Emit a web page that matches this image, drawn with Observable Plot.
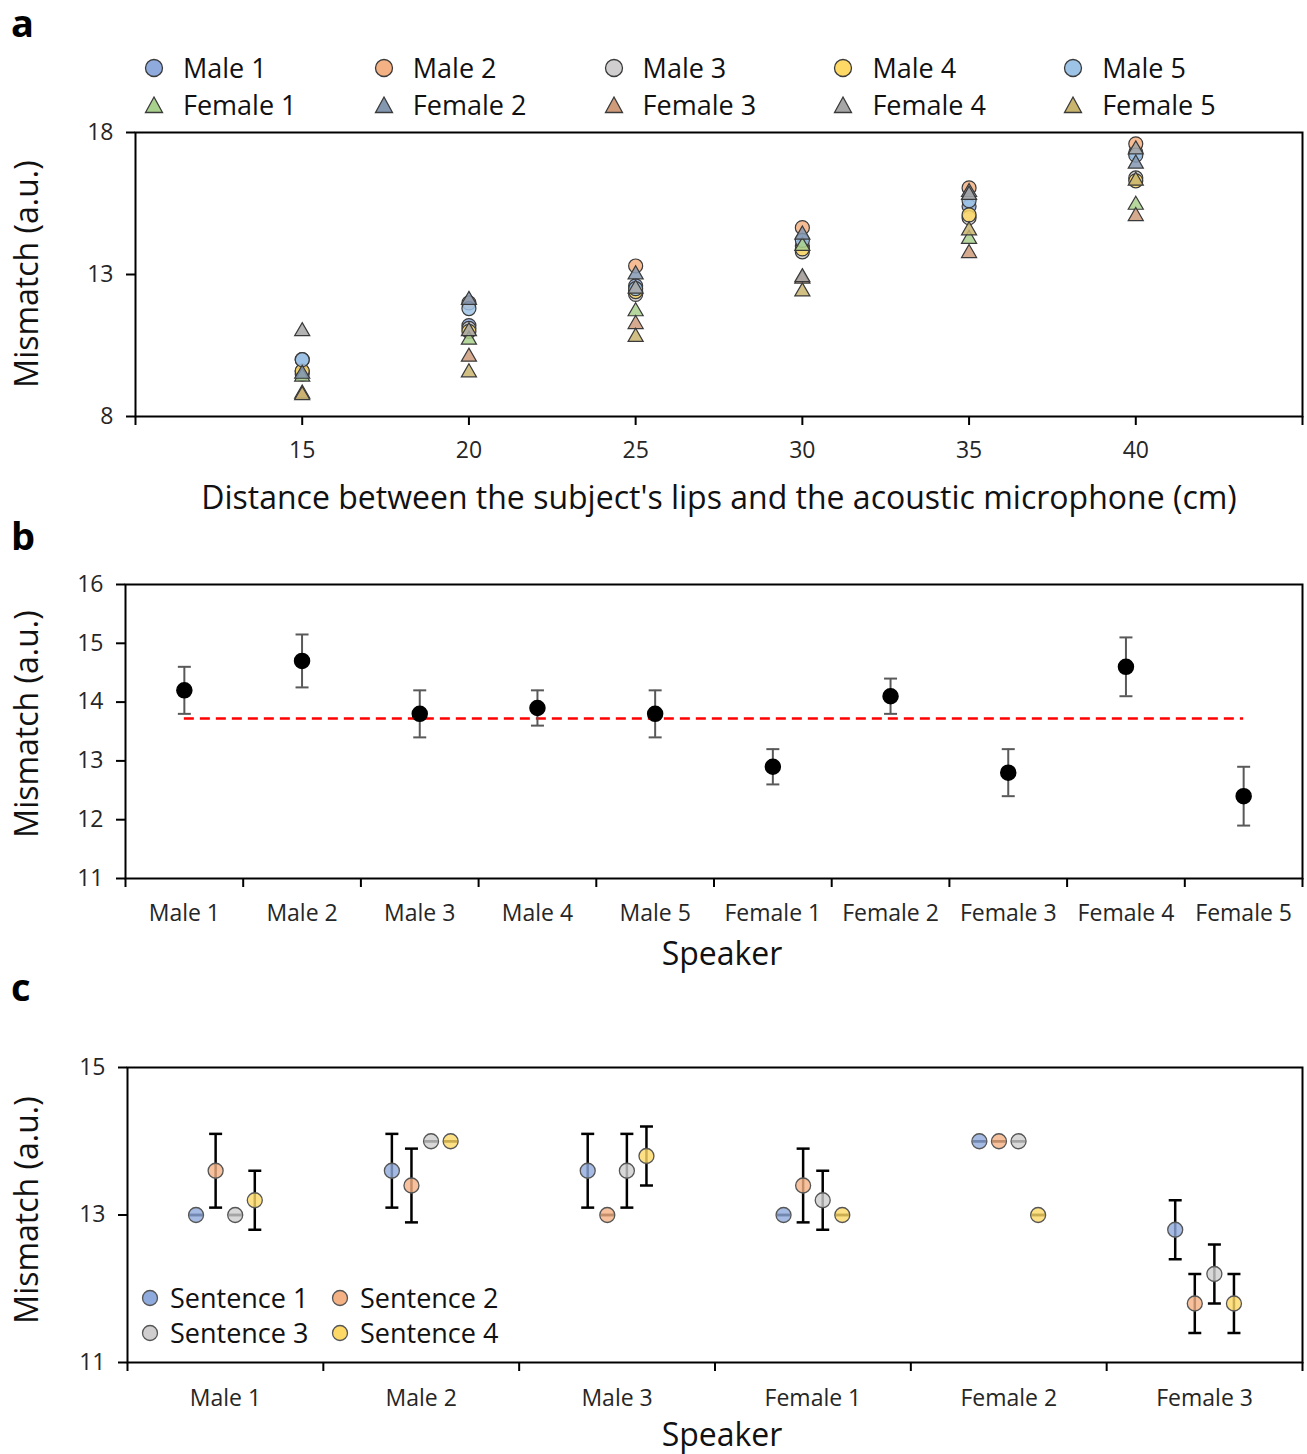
<!DOCTYPE html>
<html><head><meta charset="utf-8">
<script src="https://cdn.jsdelivr.net/npm/d3@7"></script>
<script src="https://cdn.jsdelivr.net/npm/@observablehq/plot@0.6"></script>
<style>
body{margin:0;background:#fff;font-family:"Open Sans",sans-serif;color:#1a1a1a;}
#root{position:relative;width:1307px;height:1454px;overflow:hidden;background:#fff;}
.plab{position:absolute;font-weight:bold;font-size:38px;line-height:1.15;font-family:"Open Sans",sans-serif;color:#000;}
.title{position:absolute;white-space:nowrap;font-size:32px;line-height:1.2;transform:translate(-50%,-50%);color:#111;}
.ytitle{position:absolute;white-space:nowrap;font-size:32px;line-height:1.2;transform:translate(-50%,-50%) rotate(-90deg);color:#111;}
.leg{position:absolute;display:flex;align-items:center;white-space:nowrap;line-height:1;color:#111;}
</style>
</head><body><div id="root"></div>
<script>
// ---------- Panel a data ----------
const distances = [15, 20, 25, 30, 35, 40];
const speakersA = ["Male 1","Male 2","Male 3","Male 4","Male 5","Female 1","Female 2","Female 3","Female 4","Female 5"];
const colorsA = ["#8faadc","#f4b183","#d0cece","#ffd966","#9dc3e6","#a9d18e","#8497b0","#cf9b7b","#a6a6a6","#c9b46e"];
const male1   = [10.0, 11.2, 12.6, 14.0, 15.4, 17.3];
const male2   = [9.6, 12.0, 13.3, 14.65, 16.05, 17.6];
const male3   = [9.5, 11.1, 12.3, 13.8, 15.0, 16.4];
const male4   = [9.6, 11.0, 12.4, 13.9, 15.1, 16.3];
const male5   = [10.0, 11.8, 12.5, 14.2, 15.6, 17.2];
const female1 = [9.4, 10.7, 11.7, 14.0, 14.25, 15.45];
const female2 = [9.5, 12.1, 13.0, 14.4, 15.9, 16.9];
const female3 = [8.8, 10.1, 11.25, 12.85, 13.75, 15.05];
const female4 = [11.0, 11.0, 12.5, 12.9, 15.8, 17.4];
const female5 = [8.75, 9.55, 10.8, 12.4, 14.55, 16.3];
const seriesA = [male1, male2, male3, male4, male5, female1, female2, female3, female4, female5];
const yTicksA = [8, 13, 18];
const xTicksA = [10, 15, 20, 25, 30, 35, 40, 45];

// ---------- Panel b data ----------
const speakersB = ["Male 1","Male 2","Male 3","Male 4","Male 5","Female 1","Female 2","Female 3","Female 4","Female 5"];
const meanB = [14.2, 14.7, 13.8, 13.9, 13.8, 12.9, 14.1, 12.8, 14.6, 12.4];
const errB  = [0.4, 0.45, 0.4, 0.3, 0.4, 0.3, 0.3, 0.4, 0.5, 0.5];
const yTicksB = [11, 12, 13, 14, 15, 16];

// ---------- Panel c data ----------
const speakersC = ["Male 1","Male 2","Male 3","Female 1","Female 2","Female 3"];
const sentences = ["Sentence 1","Sentence 2","Sentence 3","Sentence 4"];
const colorsC = ["#8faadc","#f4b183","#d0cece","#ffd966"];
const sentence1 = [13.0, 13.6, 13.6, 13.0, 14.0, 12.8];
const sentence2 = [13.6, 13.4, 13.0, 13.4, 14.0, 11.8];
const sentence3 = [13.0, 14.0, 13.6, 13.2, 14.0, 12.2];
const sentence4 = [13.2, 14.0, 13.8, 13.0, 13.0, 11.8];
const err1 = [0, 0.5, 0.5, 0, 0, 0.4];
const err2 = [0.5, 0.5, 0, 0.5, 0, 0.4];
const err3 = [0, 0, 0.5, 0.4, 0, 0.4];
const err4 = [0.4, 0, 0.4, 0, 0, 0.4];
const yTicksC = [11, 13, 15];

// ---------- helpers ----------
const root = document.getElementById("root");
function put(el, left, top){ el.style.position="absolute"; el.style.left=left+"px"; el.style.top=top+"px"; root.appendChild(el); return el; }
function div(cls, text){ const d=document.createElement("div"); d.className=cls; d.textContent=text; return d; }
const capSymbol = { draw(ctx, size){ const w = Math.sqrt(size/Math.PI); ctx.moveTo(-w,0); ctx.lineTo(w,0); } };
const FONT = "Open Sans";
const tickColor = "#262626";
const TICKFS = 23;

// ---------- Panel a ----------
const rowsA = [];
speakersA.forEach((s, i) => distances.forEach((d, j) => rowsA.push({speaker: s, female: s.startsWith("Female"), distance: d, value: seriesA[i][j]})));

const plotA = Plot.plot({
  width: 1307, height: 400, marginTop: 12, marginLeft: 135, marginRight: 5, marginBottom: 104,
  x: {domain: [10, 45]}, y: {domain: [8, 18]},
  color: {domain: speakersA, range: colorsA},
  style: {fontFamily: FONT, background: "white", color: tickColor, overflow: "visible"},
  marks: [
    Plot.frame({stroke: "black", strokeWidth: 2}),
    Plot.axisX({ticks: xTicksA, tickFormat: d => distances.includes(d) ? String(d) : "", tickSize: 9, tickPadding: 16, fontSize: TICKFS, label: null, stroke: "black", strokeWidth: 2}),
    Plot.axisY({ticks: yTicksA, tickFormat: "d", tickSize: 9, tickPadding: 13, fontSize: TICKFS, label: null, stroke: "black", strokeWidth: 2}),
    Plot.dot(rowsA.filter(d => !d.female), {x: "distance", y: "value", fill: "speaker", symbol: "circle", r: 7, stroke: "#3a3a3a", strokeWidth: 1.2, fillOpacity: 0.85}),
    Plot.dot(rowsA.filter(d => d.female), {x: "distance", y: "value", fill: "speaker", symbol: "triangle", r: 5.6, stroke: "#3a3a3a", strokeWidth: 1.2, fillOpacity: 0.85})
  ]
});
put(plotA, 0, 120);

// legend a
speakersA.forEach((s, i) => {
  const col = i % 5, row = Math.floor(i / 5);
  const el = document.createElement("div"); el.className = "leg"; el.style.fontSize = "27px";
  const shape = row === 0
    ? `<circle cx="10" cy="10" r="8.5" fill="${colorsA[i]}" stroke="#3a3a3a" stroke-width="1.3"/>`
    : `<path d="M10,2 L18.5,17.5 L1.5,17.5 Z" fill="${colorsA[i]}" stroke="#3a3a3a" stroke-width="1.3"/>`;
  el.innerHTML = `<svg width="20" height="20" style="margin-right:19px">${shape}</svg><span>${s}</span>`;
  put(el, 144 + col * 229.8, (row === 0 ? 67 : 104) - 13);
});

put(div("plab", "a"), 11, 1);
put(div("ytitle", "Mismatch (a.u.)"), 26, 274);
put(div("title", "Distance between the subject's lips and the acoustic microphone (cm)"), 719, 497);

// ---------- Panel b ----------
const rowsB = speakersB.map((s, i) => ({speaker: s, pos: i + 0.5, mean: meanB[i], lo: meanB[i] - errB[i], hi: meanB[i] + errB[i]}));
const grandMean = d3.mean(meanB);
const plotB = Plot.plot({
  width: 1307, height: 400, marginTop: 10, marginLeft: 125, marginRight: 5, marginBottom: 96,
  x: {domain: [0, speakersB.length]}, y: {domain: [11, 16]},
  style: {fontFamily: FONT, background: "white", color: tickColor, overflow: "visible"},
  marks: [
    Plot.frame({stroke: "black", strokeWidth: 2}),
    Plot.axisX({ticks: d3.range(0, speakersB.length + 1), tickFormat: () => "", tickSize: 9, label: null, stroke: "black", strokeWidth: 2}),
    Plot.axisX({ticks: rowsB.map(d => d.pos), tickFormat: v => speakersB[Math.floor(v)], tickSize: 0, tickPadding: 26, fontSize: TICKFS, label: null}),
    Plot.axisY({ticks: yTicksB, tickFormat: "d", tickSize: 9, tickPadding: 13, fontSize: TICKFS, label: null, stroke: "black", strokeWidth: 2}),
    Plot.ruleY([grandMean], {x1: rowsB[0].pos, x2: rowsB[rowsB.length - 1].pos, stroke: "#ff0000", strokeWidth: 2.5, strokeDasharray: "10,6"}),
    Plot.ruleX(rowsB, {x: "pos", y1: "lo", y2: "hi", stroke: "#595959", strokeWidth: 2}),
    Plot.dot(rowsB, {x: "pos", y: "lo", symbol: capSymbol, r: 6.5, stroke: "#595959", strokeWidth: 2}),
    Plot.dot(rowsB, {x: "pos", y: "hi", symbol: capSymbol, r: 6.5, stroke: "#595959", strokeWidth: 2}),
    Plot.dot(rowsB, {x: "pos", y: "mean", r: 7.5, fill: "black", stroke: "black"})
  ]
});
put(plotB, 0, 574);
put(div("plab", "b"), 11, 514);
put(div("ytitle", "Mismatch (a.u.)"), 26, 724);
put(div("title", "Speaker"), 722, 953);

// ---------- Panel c ----------
const valsC = [sentence1, sentence2, sentence3, sentence4];
const errsC = [err1, err2, err3, err4];
const dodge = 0.1;
const rowsC = [];
speakersC.forEach((sp, i) => sentences.forEach((se, k) => {
  const v = valsC[k][i], e = errsC[k][i];
  rowsC.push({speaker: sp, sentence: se, pos: i + 0.5 + (k - 1.5) * dodge, v, lo: v - e, hi: v + e});
}));
const plotC = Plot.plot({
  width: 1307, height: 399, marginTop: 12, marginLeft: 127, marginRight: 5, marginBottom: 92,
  x: {domain: [0, speakersC.length]}, y: {domain: [11, 15]},
  color: {domain: sentences, range: colorsC},
  style: {fontFamily: FONT, background: "white", color: tickColor, overflow: "visible"},
  marks: [
    Plot.frame({stroke: "black", strokeWidth: 2}),
    Plot.axisX({ticks: d3.range(0, speakersC.length + 1), tickFormat: () => "", tickSize: 9, label: null, stroke: "black", strokeWidth: 2}),
    Plot.axisX({ticks: speakersC.map((d, i) => i + 0.5), tickFormat: v => speakersC[Math.floor(v)], tickSize: 0, tickPadding: 27, fontSize: TICKFS, label: null}),
    Plot.axisY({ticks: yTicksC, tickFormat: "d", tickSize: 9, tickPadding: 13, fontSize: TICKFS, label: null, stroke: "black", strokeWidth: 2}),
    Plot.ruleX(rowsC, {x: "pos", y1: "lo", y2: "hi", stroke: "black", strokeWidth: 2.5}),
    Plot.dot(rowsC, {x: "pos", y: "lo", symbol: capSymbol, r: 6.5, stroke: "black", strokeWidth: 2.5}),
    Plot.dot(rowsC, {x: "pos", y: "hi", symbol: capSymbol, r: 6.5, stroke: "black", strokeWidth: 2.5}),
    Plot.dot(rowsC, {x: "pos", y: "v", r: 7.5, fill: "sentence", fillOpacity: 0.8, stroke: "#555", strokeWidth: 1.3})
  ]
});
put(plotC, 0, 1055);
put(div("plab", "c"), 11, 965);
put(div("ytitle", "Mismatch (a.u.)"), 26, 1210);
put(div("title", "Speaker"), 722, 1434);

// legend c
sentences.forEach((s, k) => {
  const col = k % 2, row = Math.floor(k / 2);
  const el = document.createElement("div"); el.className = "leg"; el.style.fontSize = "27px";
  el.innerHTML = `<svg width="18" height="18" style="margin-right:11px"><circle cx="9" cy="9" r="7.5" fill="${colorsC[k]}" stroke="#555" stroke-width="1.3"/></svg><span>${s}</span>`;
  put(el, 141 + col * 190, (row === 0 ? 1298 : 1333) - 14);
});
</script>
</body></html>
